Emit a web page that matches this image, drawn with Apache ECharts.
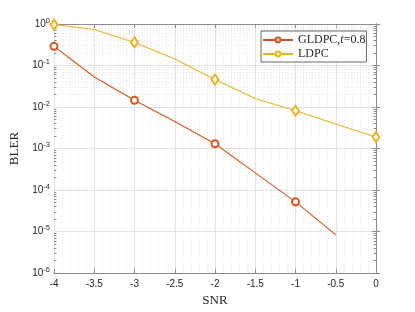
<!DOCTYPE html>
<html><head><meta charset="utf-8">
<script src="https://cdn.jsdelivr.net/npm/echarts@6/dist/echarts.min.js"></script>
<style>html,body{margin:0;padding:0;background:#fff}#c{width:415px;height:312px}</style>
</head><body><div id="c"></div>
<script>
const snr = [-4, -3.5, -3, -2.5, -2, -1.5, -1, -0.5, 0];
const gldpc = [0.29, 0.053, 0.0145, 0.0045, 0.0013, 0.00026, 0.000052, 0.0000083, null];
const ldpc = [0.97, 0.74, 0.36, 0.144, 0.046, 0.016, 0.0081, 0.0039, 0.0019];
const markerSnr = [-4, -3, -2, -1, 0];
const xTicks = [-4, -3.5, -3, -2.5, -2, -1.5, -1, -0.5, 0];
const yDecades = [-6, -5, -4, -3, -2, -1, 0];
const names = ['GLDPC,t=0.8', 'LDPC'];

const minorY = [];
const minorTicks = [];
for (let d = -6; d < 0; d++) for (let k = 2; k <= 9; k++) {
  const v = k * Math.pow(10, d);
  minorY.push({yAxis: v});
  minorTicks.push([{coord: [-4, v]}, {coord: [-3.97, v]}]);
  minorTicks.push([{coord: [0, v]}, {coord: [-0.03, v]}]);
}

function mk(vals, sym, size) {
  return snr.map((x, i) => vals[i] == null ? null : ({
    value: [x, vals[i]],
    symbol: markerSnr.includes(x) ? sym : 'none',
    symbolSize: size
  })).filter(d => d);
}
const axisCol = '#8a8a8a';
const txt = '#262626';
const chart = echarts.init(document.getElementById('c'));
chart.setOption({
  animation: false,
  backgroundColor: '#fff',
  grid: {left: 54, right: 39, top: 24, bottom: 35},
  legend: {
    left: 261, top: 31, orient: 'vertical',
    data: names,
    itemWidth: 30, itemHeight: 6, itemGap: 0,
    padding: [2, 1, 1, 1],
    borderColor: '#262626', borderWidth: 0.7, backgroundColor: '#fff',
    textStyle: {fontFamily: 'Liberation Serif', fontSize: 12, color: txt, lineHeight: 14,
      rich: {i: {fontFamily: 'Liberation Serif', fontStyle: 'italic', fontSize: 12, color: txt, lineHeight: 14}}},
    formatter: n => n === names[0] ? 'GLDPC,{i|t}=0.8' : n
  },
  xAxis: [{
    type: 'value', min: -4, max: 0, interval: 0.5,
    name: 'SNR', nameLocation: 'middle', nameGap: 20,
    nameTextStyle: {fontFamily: 'Liberation Serif', fontSize: 13, color: txt},
    axisLine: {show: true, lineStyle: {color: axisCol, width: 1}},
    axisTick: {inside: true, length: 4, lineStyle: {color: axisCol}},
    axisLabel: {fontFamily: 'Liberation Sans', fontSize: 10, color: txt, margin: 6,
      formatter: v => xTicks.includes(v) ? String(v) : ''},
    splitLine: {show: true, lineStyle: {color: '#e3e3e3', width: 1}},
    minorTick: {show: false, splitNumber: 5},
    minorSplitLine: {show: true, lineStyle: {color: '#e0e0e0', width: 0.7, type: [1, 2]}}
  }, {
    type: 'value', min: -4, max: 0, interval: 0.5, position: 'top',
    axisLine: {show: true, lineStyle: {color: axisCol, width: 1}},
    axisTick: {inside: true, length: 4, lineStyle: {color: axisCol}},
    axisLabel: {show: false}, splitLine: {show: false}
  }],
  yAxis: [{
    type: 'log', min: 1e-6, max: 1, logBase: 10,
    name: 'BLER', nameLocation: 'middle', nameGap: 32,
    nameTextStyle: {fontFamily: 'Liberation Serif', fontSize: 13, color: txt},
    axisLine: {show: true, lineStyle: {color: axisCol, width: 1}},
    axisTick: {inside: true, length: 4, lineStyle: {color: axisCol}},
    axisLabel: {margin: 4, color: txt,
      formatter: v => { const e = Math.round(Math.log10(v)); return yDecades.includes(e) ? '{b|10}{s|' + e + '}' : ''; },
      rich: {b: {fontFamily: 'Liberation Sans', fontSize: 10, color: txt},
             s: {fontFamily: 'Liberation Sans', fontSize: 7.5, color: txt, verticalAlign: 'bottom', padding: [0, 0, 7, 0]}}},
    splitLine: {show: true, lineStyle: {color: '#e3e3e3', width: 1}}
  }, {
    type: 'log', min: 1e-6, max: 1, logBase: 10, position: 'right',
    axisLine: {show: true, lineStyle: {color: axisCol, width: 1}},
    axisTick: {inside: true, length: 4, lineStyle: {color: axisCol}},
    axisLabel: {show: false}, splitLine: {show: false}
  }],
  series: [{
    name: names[0], type: 'line', data: mk(gldpc, 'emptyCircle', 7),
    color: '#D95319', lineStyle: {width: 1.1}, itemStyle: {borderWidth: 1.1},
    z: 3,
    markLine: {silent: true, symbol: 'none', label: {show: false},
      lineStyle: {color: '#dcdcdc', width: 0.7, type: [1, 2]}, data: minorY, z: 1}
  }, {
    name: names[1], type: 'line', data: mk(ldpc, 'emptyDiamond', [7, 10]),
    color: '#EDB120', lineStyle: {width: 1.1}, itemStyle: {borderWidth: 1.1},
    z: 3,
    markLine: {silent: true, symbol: 'none', label: {show: false},
      lineStyle: {color: axisCol, width: 1, type: 'solid'}, data: minorTicks, z: 1}
  }]
});
</script></body></html>
